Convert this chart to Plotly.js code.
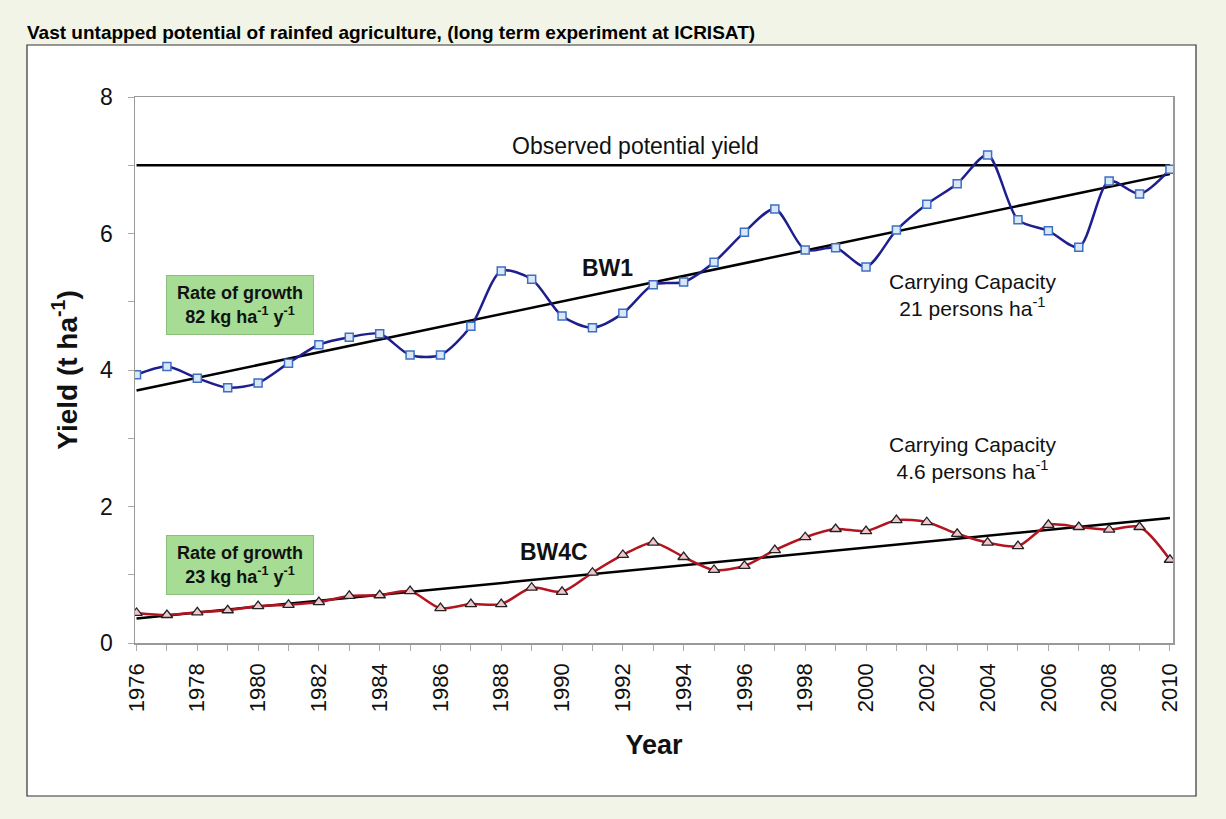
<!DOCTYPE html>
<html>
<head>
<meta charset="utf-8">
<script src="https://cdn.plot.ly/plotly-3.0.1.min.js"></script>
<style>
html,body{margin:0;padding:0;background:#f1f4e6;}
#chart{width:1226px;height:819px;}
</style>
</head>
<body>
<div id="chart"></div>
<script>
const years = [1976,1977,1978,1979,1980,1981,1982,1983,1984,1985,1986,1987,1988,1989,1990,1991,1992,1993,1994,1995,1996,1997,1998,1999,2000,2001,2002,2003,2004,2005,2006,2007,2008,2009,2010];
const bw1 = [3.93,4.05,3.88,3.74,3.81,4.10,4.37,4.48,4.53,4.22,4.22,4.64,5.45,5.33,4.79,4.62,4.83,5.25,5.29,5.58,6.02,6.36,5.76,5.79,5.51,6.05,6.43,6.73,7.15,6.20,6.04,5.80,6.77,6.58,6.94];
const bw4c = [0.44,0.41,0.45,0.48,0.54,0.56,0.60,0.69,0.70,0.76,0.51,0.57,0.57,0.81,0.75,1.03,1.29,1.47,1.26,1.07,1.13,1.36,1.55,1.67,1.64,1.80,1.77,1.60,1.47,1.42,1.73,1.70,1.66,1.70,1.22];
const trendYears = [1976, 2010];
const bw1Trend = [3.70, 6.87];
const bw4cTrend = [0.36, 1.83];
const potentialYield = [7.0, 7.0];
const xTickLabels = ['1976','1978','1980','1982','1984','1986','1988','1990','1992','1994','1996','1998','2000','2002','2004','2006','2008','2010'];
const yTickLabels = ['0','2','4','6','8'];

const traces = [
  {x: trendYears, y: potentialYield, mode:'lines', line:{color:'#000', width:2.5}, hoverinfo:'skip'},
  {x: trendYears, y: bw1Trend, mode:'lines', line:{color:'#000', width:2.5}, hoverinfo:'skip'},
  {x: years, y: bw1, mode:'lines+markers', name:'BW1',
   line:{color:'#1e1e8e', width:2.5, shape:'spline', smoothing:0.8},
   marker:{symbol:'square', size:8, color:'#dbe7f7', line:{color:'#3d6fc2', width:1.5}}},
  {x: trendYears, y: bw4cTrend, mode:'lines', line:{color:'#000', width:2.5}, hoverinfo:'skip'},
  {x: years, y: bw4c, mode:'lines+markers', name:'BW4C',
   line:{color:'#b3141f', width:2.5, shape:'spline', smoothing:0.8},
   marker:{symbol:'triangle-up', size:10, color:'#f3c6cd', line:{color:'#222', width:1.3}}}
];

const L = 135, R = 1173, T = 97, B = 643;
const pw = R - L, ph = B - T;
function px(xp){ return (xp - L)/pw; }
function py(yp){ return (B - yp)/ph; }

const FONT = 'Liberation Sans, Arial, sans-serif';
const boxFont = {family:FONT, size:18, color:'#111'};
const layout = {
  width:1226, height:819,
  margin:{l:L, r:1226-R, t:T, b:819-B},
  paper_bgcolor:'#f1f4e6',
  plot_bgcolor:'#ffffff',
  showlegend:false,
  font:{family:FONT, color:'#111'},
  title:{text:'<b>Vast untapped potential of rainfed agriculture, (long term experiment at ICRISAT)</b>',
    font:{family:FONT, size:19, color:'#000'},
    xref:'container', yref:'container', x:27/1226, xanchor:'left', y:1-32/819, yanchor:'middle'},
  xaxis:{range:[1975.95, 2010.1], tickmode:'array', tickvals:xTickLabels.map(Number), ticktext:xTickLabels,
    tickangle:-90, tickfont:{size:22, color:'#111'}, ticks:'outside', ticklen:6, tickcolor:'#aaa', ticklabelstandoff:4,
    minor:{dtick:1, tick0:1976, ticks:'outside', ticklen:6, tickcolor:'#aaa'},
    showline:true, linecolor:'#999', linewidth:1.5, mirror:true, showgrid:false, zeroline:false,
    title:{text:'<b>Year</b>', font:{size:27, color:'#111'}, standoff:24}},
  yaxis:{range:[0,8], tickmode:'array', tickvals:yTickLabels.map(Number), ticktext:yTickLabels,
    tickfont:{size:23, color:'#111'}, ticks:'outside', ticklen:6, tickcolor:'#aaa', ticklabelstandoff:10,
    minor:{dtick:1, tick0:0, ticks:'outside', ticklen:6, tickcolor:'#aaa'},
    showline:true, linecolor:'#999', linewidth:1.5, mirror:true, showgrid:false, zeroline:false,
    title:{text:'<b>Yield (t ha<sup>-1</sup>)</b>', font:{size:28, color:'#111'}, standoff:14}},
  shapes:[
    {type:'rect', xref:'paper', yref:'paper', layer:'below',
     x0:px(27), x1:px(1196), y0:py(796), y1:py(45),
     fillcolor:'#ffffff', line:{color:'#333', width:1.2}}
  ],
  annotations:[
    {x:1992.4, y:7.28, xref:'x', yref:'y', text:'Observed potential yield', showarrow:false, font:{size:23, color:'#111'}},
    {x:1991.5, y:5.50, xref:'x', yref:'y', text:'<b>BW1</b>', showarrow:false, font:{size:23, color:'#111'}},
    {x:2003.5, y:5.1, xref:'x', yref:'y', text:'Carrying Capacity<br>21 persons ha<sup>-1</sup>', showarrow:false, font:{size:21, color:'#111'}},
    {x:1979.4, y:4.95, xref:'x', yref:'y', text:'<b>Rate of growth<br>82 kg ha<sup>-1</sup> y<sup>-1</sup></b>', showarrow:false,
     font:boxFont, bgcolor:'#a6dc94', bordercolor:'#8cbf7c', borderwidth:1, borderpad:3, width:140, height:52},
    {x:1989.75, y:1.33, xref:'x', yref:'y', text:'<b>BW4C</b>', showarrow:false, font:{size:23, color:'#111'}},
    {x:2003.5, y:2.71, xref:'x', yref:'y', text:'Carrying Capacity<br>4.6 persons ha<sup>-1</sup>', showarrow:false, font:{size:21, color:'#111'}},
    {x:1979.4, y:1.14, xref:'x', yref:'y', text:'<b>Rate of growth<br>23 kg ha<sup>-1</sup> y<sup>-1</sup></b>', showarrow:false,
     font:boxFont, bgcolor:'#a6dc94', bordercolor:'#8cbf7c', borderwidth:1, borderpad:3, width:140, height:52}
  ]
};

Plotly.newPlot('chart', traces, layout, {displayModeBar:false, staticPlot:true});
</script>
</body>
</html>
